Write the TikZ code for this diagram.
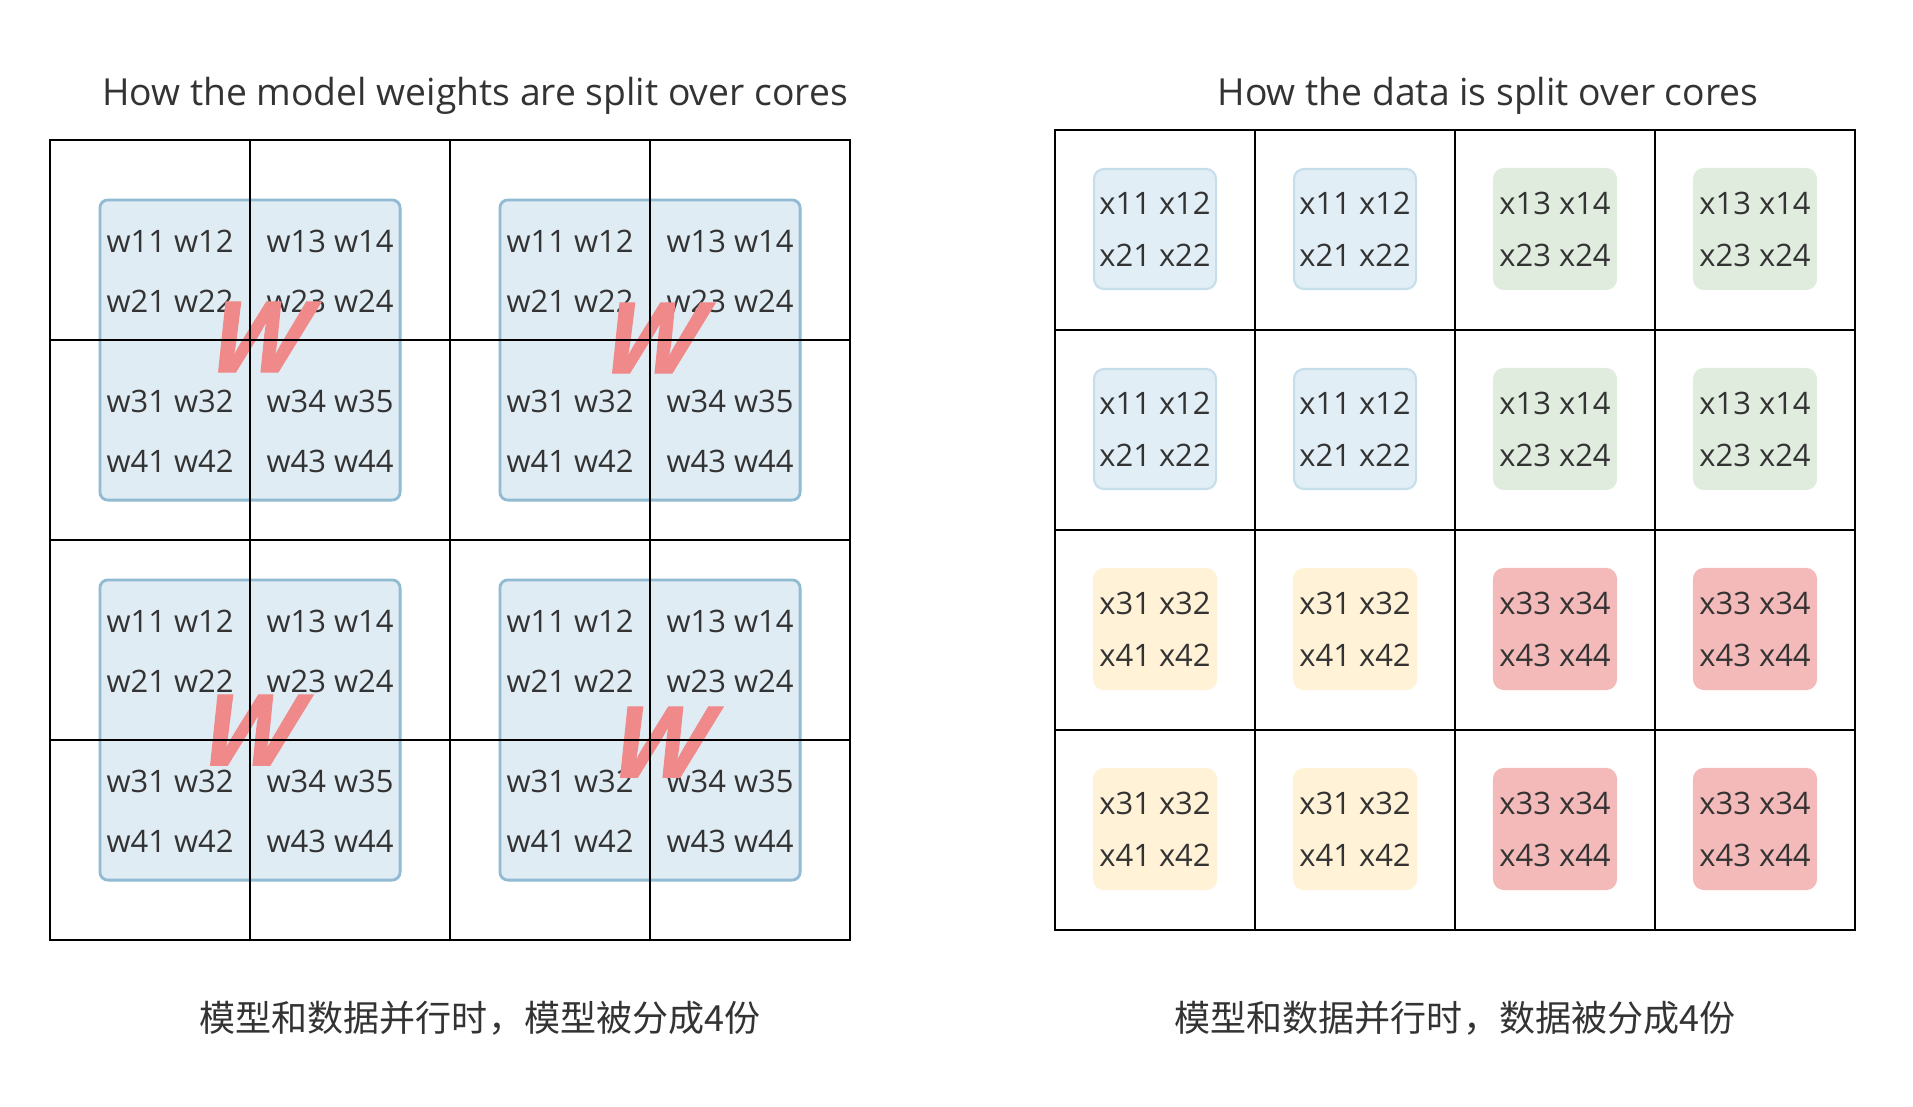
\documentclass[tikz,border=0pt]{standalone}
\usepackage{fontspec}
\setmainfont{Open Sans}
\newfontfamily\cjkfont{Noto Sans CJK SC}
\newfontfamily\bigwfont{Open Sans}[BoldFeatures={FakeBold=1.2}]
\usetikzlibrary{positioning}
\definecolor{inkgray}{RGB}{51,51,51}
\definecolor{wblockfill}{RGB}{224,236,244}
\definecolor{wblockline}{RGB}{145,187,210}
\definecolor{bigwred}{RGB}{240,138,138}
\definecolor{xbluefill}{RGB}{225,238,245}
\definecolor{xblueline}{RGB}{198,222,234}
\definecolor{xgreenfill}{RGB}{224,237,222}
\definecolor{xgreenline}{RGB}{224,237,222}
\definecolor{xyellowfill}{RGB}{255,242,214}
\definecolor{xyellowline}{RGB}{255,242,214}
\definecolor{xredfill}{RGB}{244,185,185}
\definecolor{xredline}{RGB}{244,185,185}

\tikzset{
  core/.style={draw=black, line width=0.6pt},
  heading/.style={text=inkgray, font=\fontsize{10.6}{13}\selectfont, inner sep=0pt, anchor=base},
  note/.style={text=inkgray, font=\cjkfont\fontsize{10.25}{13}\selectfont, inner sep=0pt, anchor=base},
  wblock/.style={draw=wblockline, fill=wblockfill, line width=0.8pt, rounded corners=0.08cm,
    minimum width=3cm, minimum height=3cm},
  wtext/.style={text=inkgray, font=\fontsize{8.8}{11}\selectfont, inner sep=0pt},
  bigw/.style={text=bigwred, font=\bigwfont\fontsize{28}{28}\selectfont\bfseries, xslant=0.36, inner sep=0pt},
  xblock/.style={draw=#1line, fill=#1fill, line width=0.6pt, rounded corners=0.1cm,
    minimum width=1.22cm, minimum height=1.2cm, align=center, inner sep=0pt,
    text=inkgray, font=\fontsize{8.8}{14.8}\selectfont}
}

\begin{document}
\begin{tikzpicture}[x=0.01cm, y=-0.01cm]
  \useasboundingbox (0,0) rectangle (1913,1106);

  % headings
  \node[heading] (wtitle) at (475,105) {How the model weights are split over cores};
  \node[heading] (xtitle) at (1488,105) {How the data is split over cores};

  % weight blocks, one per core group
  \foreach \bx/\by/\wx/\wy [count=\i] in {100/200/261/337, 500/200/655/338, 100/580/253/730, 500/580/663/742}{
    \node[wblock] (blk\i) at (\bx+150,\by+150) {};
    \node[wtext] (blk\i-a) at (\bx+70,\by+41) {w11 w12};
    \node[wtext] (blk\i-b) at (\bx+230,\by+41) {w13 w14};
    \node[wtext] (blk\i-c) at (\bx+70,\by+101) {w21 w22};
    \node[wtext] (blk\i-d) at (\bx+230,\by+101) {w23 w24};
    \node[wtext] (blk\i-e) at (\bx+70,\by+201) {w31 w32};
    \node[wtext] (blk\i-f) at (\bx+230,\by+201) {w34 w35};
    \node[wtext] (blk\i-g) at (\bx+70,\by+261) {w41 w42};
    \node[wtext] (blk\i-h) at (\bx+230,\by+261) {w43 w44};
    \node[bigw] (bigw\i) at (\wx,\wy) {W};
  }

  % cores for the weights
  \draw[core] (50,140) rectangle (850,940);
  \foreach \k in {200,400,600}{
    \draw[core] (50+\k,140) -- (50+\k,940);
    \draw[core] (50,140+\k) -- (850,140+\k);
  }

  % data blocks
  \foreach \qr/\qc/\sty in {0/0/xblue, 0/1/xgreen, 1/0/xyellow, 1/1/xred}{
    \pgfmathtruncatemacro\ra{1+2*\qr}
    \pgfmathtruncatemacro\rb{2+2*\qr}
    \pgfmathtruncatemacro\ca{1+2*\qc}
    \pgfmathtruncatemacro\cb{2+2*\qc}
    \foreach \dr in {0,1}{
      \foreach \dc in {0,1}{
        \node[xblock=\sty] (x-\qr\dr-\qc\dc) at ({1155+400*\qc+200*\dc},{229+400*\qr+200*\dr})
          {x\ra\ca{} x\ra\cb\\x\rb\ca{} x\rb\cb};
      }
    }
  }

  % cores for the data
  \draw[core] (1055,130) rectangle (1855,930);
  \foreach \k in {200,400,600}{
    \draw[core] (1055+\k,130) -- (1055+\k,930);
    \draw[core] (1055,130+\k) -- (1855,130+\k);
  }

  % captions
  \node[note] (wnote) at (480,1031) {模型和数据并行时，模型被分成4份};
  \node[note] (xnote) at (1455,1031) {模型和数据并行时，数据被分成4份};
\end{tikzpicture}
\end{document}
